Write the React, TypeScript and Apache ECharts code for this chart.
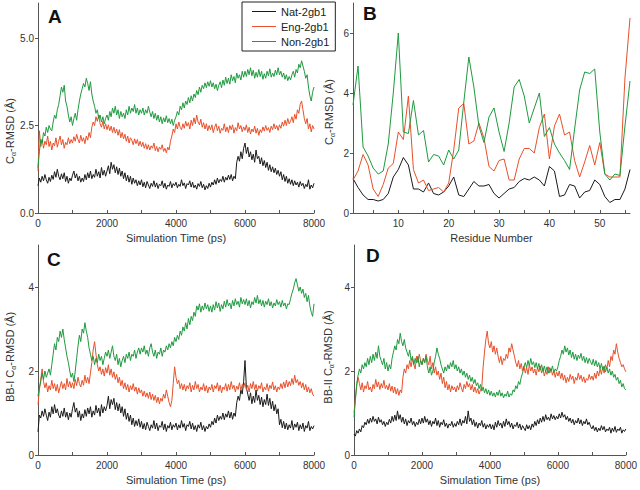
import React, { useEffect, useRef } from "react";
import * as echarts from "echarts";

const TIME_STEP = 40;
const TIME_TICKS = [0, 1000, 2000, 3000, 4000, 5000, 6000, 7000, 8000];
const TIME_LABELS = [0, 2000, 4000, 6000, 8000];
const SERIES_NAMES = ["Nat-2gb1", "Eng-2gb1", "Non-2gb1"];
const COLORS = ["#1a1a1a", "#e8502a", "#1f9a3f"];

// Panel A: Cα-RMSD vs time (one value every 40 ps)
const A_NAT = [
  0.78, 1.00, 0.88, 1.05, 0.92, 1.10, 0.95, 0.85, 1.02, 0.90, 1.08, 0.96, 1.18, 1.02, 1.25, 1.05, 0.95, 1.12, 0.98, 1.15, 0.90, 1.05, 0.85, 1.00, 0.92,
  1.08, 1.20, 1.00, 1.12, 0.92, 1.05, 0.88, 1.00, 0.90, 1.10, 0.95, 1.15, 1.00, 1.20, 0.98, 1.10, 1.02, 1.25, 1.05, 1.18, 1.00, 1.30, 1.08, 1.22, 1.05,
  1.20, 1.35, 1.12, 1.45, 1.25, 1.38, 1.15, 1.32, 1.10, 1.28, 1.05, 1.20, 0.98, 1.15, 0.92, 1.08, 0.88, 1.05, 0.82, 1.00, 0.85, 0.95, 0.78, 0.92, 0.80,
  0.95, 0.75, 0.88, 0.72, 0.90, 0.80, 0.70, 0.85, 0.76, 0.92, 0.74, 0.86, 0.70, 0.82, 0.78, 0.92, 0.72, 0.85, 0.68, 0.80, 0.76, 0.90, 0.72, 0.84, 0.78,
  0.88, 0.72, 0.82, 0.76, 0.95, 0.78, 0.86, 0.70, 0.84, 0.80, 0.92, 0.74, 0.88, 0.72, 0.80, 0.68, 0.84, 0.76, 0.90, 0.72, 0.82, 0.66, 0.78, 0.70, 0.85,
  0.74, 0.88, 0.80, 0.95, 0.82, 1.00, 0.86, 0.96, 0.90, 1.05, 0.88, 1.02, 0.94, 1.08, 0.96, 1.10, 0.92, 1.05, 0.98, 1.45, 1.62, 1.48, 1.75, 1.55, 1.85,
  2.00, 1.70, 1.88, 1.60, 1.75, 1.52, 1.68, 1.45, 1.80, 1.55, 1.62, 1.40, 1.58, 1.35, 1.50, 1.30, 1.45, 1.22, 1.38, 1.18, 1.32, 1.15, 1.28, 1.10, 1.22,
  1.05, 1.18, 0.95, 1.10, 0.90, 1.05, 0.85, 0.98, 0.82, 0.95, 0.78, 0.92, 0.80, 0.88, 0.74, 0.90, 0.78, 0.85, 0.70, 0.82, 0.75, 0.95, 0.68, 0.80, 0.72,
  0.85];
const A_ENG = [
  1.20, 2.35, 1.90, 2.10, 1.85, 2.05, 1.95, 2.20, 1.90, 2.05, 1.80, 2.00, 1.92, 2.15, 1.88, 2.05, 2.20, 1.95, 2.10, 1.85, 2.02, 1.95, 2.15, 1.98, 2.10,
  2.00, 2.18, 2.05, 2.25, 2.10, 2.00, 2.22, 2.05, 2.15, 1.98, 2.20, 2.08, 2.30, 2.15, 2.45, 2.60, 2.50, 2.75, 2.62, 2.80, 2.55, 2.45, 2.62, 2.40, 2.55,
  2.38, 2.52, 2.35, 2.48, 2.30, 2.45, 2.28, 2.40, 2.22, 2.38, 2.15, 2.30, 2.12, 2.25, 2.05, 2.20, 2.00, 2.15, 2.08, 1.95, 2.12, 1.98, 2.10, 1.92, 2.05,
  1.90, 2.02, 1.85, 1.98, 1.82, 1.95, 1.80, 1.92, 1.85, 2.00, 1.78, 1.90, 1.75, 1.88, 1.82, 1.95, 1.76, 1.85, 1.72, 1.88, 1.80, 2.05, 2.20, 2.40, 2.30,
  2.55, 2.40, 2.60, 2.45, 2.38, 2.55, 2.42, 2.62, 2.48, 2.58, 2.40, 2.65, 2.50, 2.72, 2.55, 2.80, 2.60, 2.52, 2.68, 2.45, 2.58, 2.40, 2.55, 2.35, 2.50,
  2.38, 2.52, 2.30, 2.45, 2.55, 2.35, 2.48, 2.28, 2.42, 2.36, 2.55, 2.32, 2.46, 2.30, 2.50, 2.38, 2.52, 2.28, 2.44, 2.35, 2.58, 2.40, 2.50, 2.32, 2.46,
  2.36, 2.52, 2.30, 2.45, 2.26, 2.40, 2.32, 2.48, 2.28, 2.42, 2.22, 2.38, 2.30, 2.46, 2.34, 2.50, 2.36, 2.44, 2.30, 2.48, 2.38, 2.55, 2.40, 2.50, 2.36,
  2.52, 2.42, 2.60, 2.48, 2.65, 2.50, 2.70, 2.55, 2.62, 2.75, 2.58, 2.82, 2.68, 2.95, 2.85, 3.10, 3.20, 2.95, 2.70, 2.55, 2.70, 2.40, 2.55, 2.32, 2.50,
  2.40];
const A_NON = [
  1.30, 1.75, 2.10, 2.00, 2.30, 2.20, 2.45, 2.30, 2.50, 2.40, 2.35, 2.60, 2.80, 2.70, 2.95, 3.10, 3.35, 3.60, 3.45, 3.65, 3.20, 3.05, 2.80, 2.60, 2.75,
  2.50, 2.70, 2.85, 2.65, 2.95, 3.20, 3.40, 3.55, 3.70, 3.60, 3.85, 3.70, 3.50, 3.75, 3.40, 3.20, 3.05, 2.85, 2.95, 2.70, 2.80, 2.60, 2.75, 2.55, 2.70,
  2.80, 2.65, 2.90, 2.75, 3.00, 2.85, 3.05, 2.80, 2.95, 2.70, 2.90, 2.75, 2.85, 2.70, 2.95, 2.80, 3.05, 2.85, 3.00, 2.90, 3.10, 2.85, 3.00, 2.80, 2.95,
  2.85, 3.00, 2.80, 2.95, 2.85, 3.05, 2.88, 2.75, 2.90, 2.70, 2.85, 2.65, 2.80, 2.60, 2.75, 2.55, 2.72, 2.60, 2.78, 2.58, 2.70, 2.55, 2.68, 2.50, 2.65,
  2.75, 2.90, 2.80, 3.05, 2.95, 3.15, 3.00, 3.20, 3.10, 3.30, 3.15, 3.35, 3.20, 3.40, 3.30, 3.50, 3.38, 3.60, 3.45, 3.65, 3.55, 3.72, 3.58, 3.75, 3.62,
  3.78, 3.60, 3.72, 3.55, 3.68, 3.50, 3.65, 3.75, 3.58, 3.80, 3.65, 3.88, 3.70, 3.85, 3.68, 3.95, 3.78, 3.90, 3.72, 4.00, 3.85, 3.95, 3.80, 4.05, 3.88,
  4.05, 3.90, 4.10, 3.95, 4.15, 3.92, 4.08, 3.85, 4.02, 3.88, 4.10, 3.90, 4.05, 3.82, 3.98, 3.85, 4.05, 3.92, 4.12, 3.88, 4.00, 3.90, 4.08, 3.95, 4.15,
  3.95, 4.05, 3.88, 4.00, 3.82, 3.95, 3.78, 3.90, 3.80, 3.95, 4.05, 3.88, 4.10, 4.00, 4.25, 4.15, 4.35, 4.20, 4.05, 3.85, 3.95, 3.60, 3.35, 3.20, 3.45,
  3.60];

// Panel B: per-residue Cα-RMSD
const RESIDUES = Array.from({ length: 56 }, (_, i) => String(i + 1));
const B_NAT = [1.15, 0.85, 0.60, 0.45, 0.45, 0.40, 0.45, 0.65, 1.20, 1.45, 1.85, 1.60, 0.80, 0.80, 0.70, 1.00,
  0.65, 0.60, 0.70, 0.90, 1.20, 0.60, 0.55, 0.80, 1.05, 0.90, 0.90, 0.95, 0.65, 0.50, 0.65, 0.80,
  0.85, 1.05, 1.15, 1.10, 1.20, 1.10, 0.90, 1.55, 1.40, 0.55, 0.60, 0.95, 0.90, 0.50, 0.70, 0.75,
  1.10, 0.95, 0.55, 0.35, 0.45, 0.45, 0.80, 1.45];
const B_ENG = [1.10, 1.40, 1.95, 1.60, 0.80, 0.55, 0.95, 1.50, 1.65, 2.70, 2.45, 3.90, 1.45, 1.00, 1.10, 0.75,
  0.80, 0.85, 0.70, 1.00, 2.10, 3.50, 3.65, 2.30, 2.40, 3.00, 2.50, 1.55, 1.40, 1.75, 1.80, 1.10,
  1.10, 1.80, 2.15, 2.15, 2.00, 2.85, 3.30, 1.80, 2.90, 3.30, 2.60, 2.70, 1.75, 1.20, 1.70, 2.25,
  1.60, 2.35, 1.30, 1.20, 1.20, 1.20, 4.50, 6.50];
const B_NON = [3.60, 4.90, 2.20, 1.90, 1.50, 1.30, 1.40, 2.30, 4.00, 6.00, 2.70, 2.65, 3.75, 2.60, 2.75, 1.70,
  1.95, 1.90, 1.60, 2.10, 1.80, 2.10, 3.70, 5.20, 4.20, 2.90, 2.35, 3.20, 3.50, 2.70, 2.05, 3.00,
  4.20, 4.45, 3.90, 3.00, 3.50, 4.00, 2.55, 2.85, 2.30, 2.00, 1.75, 1.45, 2.80, 4.10, 4.70, 4.65,
  4.80, 2.70, 1.30, 1.10, 1.30, 1.25, 2.90, 4.40];

// Panel C: BB-I Cα-RMSD vs time
const C_NAT = [
  0.55, 0.95, 0.88, 1.05, 0.92, 1.10, 0.95, 0.82, 1.02, 0.90, 1.15, 0.98, 1.20, 1.00, 1.10, 0.95, 0.88, 1.05, 0.92, 1.12, 0.90, 1.02, 0.84, 1.00, 0.90,
  1.10, 1.25, 1.02, 1.12, 0.90, 1.05, 0.82, 0.98, 0.88, 1.08, 0.92, 1.12, 0.98, 1.15, 0.90, 1.05, 0.95, 1.18, 1.00, 1.12, 0.92, 1.20, 1.00, 1.15, 1.05,
  1.18, 1.40, 1.10, 1.32, 1.20, 1.35, 1.08, 1.25, 1.05, 1.22, 1.00, 1.15, 0.92, 1.10, 0.85, 1.00, 0.80, 0.95, 0.72, 0.88, 0.68, 0.82, 0.70, 0.86, 0.66,
  0.80, 0.62, 0.75, 0.60, 0.78, 0.68, 0.58, 0.72, 0.64, 0.82, 0.62, 0.76, 0.58, 0.70, 0.66, 0.80, 0.60, 0.74, 0.56, 0.70, 0.64, 0.78, 0.60, 0.72, 0.66,
  0.76, 0.60, 0.72, 0.64, 0.82, 0.66, 0.75, 0.58, 0.72, 0.68, 0.80, 0.62, 0.76, 0.60, 0.70, 0.56, 0.72, 0.64, 0.78, 0.60, 0.70, 0.56, 0.68, 0.62, 0.74,
  0.66, 0.80, 0.72, 0.88, 0.76, 0.95, 0.82, 0.92, 0.85, 1.00, 0.84, 0.98, 0.90, 1.05, 0.88, 1.02, 0.85, 1.00, 0.92, 1.25, 1.40, 1.30, 1.55, 1.45, 1.75,
  2.25, 1.60, 1.45, 1.30, 1.48, 1.22, 1.40, 1.25, 1.55, 1.30, 1.42, 1.20, 1.38, 1.15, 1.32, 1.20, 1.45, 1.18, 1.35, 1.10, 1.28, 1.05, 1.20, 0.98, 1.10,
  0.72, 0.85, 0.65, 0.80, 0.62, 0.76, 0.60, 0.72, 0.64, 0.82, 0.60, 0.74, 0.66, 0.78, 0.58, 0.72, 0.62, 0.76, 0.56, 0.70, 0.64, 0.80, 0.58, 0.68, 0.62,
  0.70];
const C_ENG = [
  1.20, 1.55, 1.80, 2.05, 1.75, 1.60, 1.72, 1.50, 1.65, 1.55, 1.78, 1.58, 1.70, 1.52, 1.68, 1.48, 1.62, 1.75, 1.58, 1.70, 1.55, 1.82, 1.62, 1.75, 1.60,
  1.72, 1.58, 1.80, 1.65, 1.85, 1.70, 1.62, 1.78, 1.66, 1.90, 1.72, 1.85, 1.70, 1.95, 2.20, 2.50, 2.70, 2.40, 2.15, 2.00, 2.10, 1.92, 2.05, 1.88, 2.08,
  1.95, 2.15, 1.90, 2.05, 1.85, 1.98, 1.80, 1.92, 1.72, 1.85, 1.65, 1.78, 1.58, 1.72, 1.55, 1.68, 1.50, 1.65, 1.55, 1.70, 1.52, 1.62, 1.45, 1.60, 1.48,
  1.55, 1.40, 1.52, 1.38, 1.48, 1.35, 1.50, 1.32, 1.45, 1.30, 1.42, 1.25, 1.38, 1.22, 1.35, 1.28, 1.45, 1.35, 1.55, 1.40, 1.25, 1.15, 1.30, 1.70, 2.10,
  1.85, 1.70, 1.78, 1.58, 1.70, 1.55, 1.68, 1.52, 1.65, 1.58, 1.72, 1.50, 1.66, 1.55, 1.75, 1.58, 1.68, 1.50, 1.62, 1.55, 1.70, 1.52, 1.65, 1.48, 1.62,
  1.55, 1.68, 1.50, 1.65, 1.58, 1.72, 1.52, 1.66, 1.48, 1.62, 1.56, 1.70, 1.52, 1.68, 1.55, 1.75, 1.58, 1.66, 1.50, 1.64, 1.56, 1.72, 1.54, 1.68, 1.60,
  1.72, 1.55, 1.66, 1.50, 1.70, 1.58, 1.75, 1.56, 1.68, 1.52, 1.65, 1.58, 1.72, 1.50, 1.62, 1.55, 1.70, 1.52, 1.66, 1.58, 1.74, 1.55, 1.65, 1.50, 1.62,
  1.56, 1.70, 1.58, 1.74, 1.60, 1.78, 1.62, 1.75, 1.65, 1.82, 1.68, 1.90, 1.72, 1.80, 1.66, 1.75, 1.60, 1.72, 1.55, 1.68, 1.50, 1.62, 1.48, 1.58, 1.45,
  1.40];
const C_NON = [
  1.40, 1.60, 1.75, 1.95, 1.80, 2.00, 1.85, 1.95, 2.05, 1.90, 2.15, 2.40, 2.65, 2.50, 2.80, 2.70, 2.95, 2.80, 3.00, 2.75, 2.55, 2.35, 2.20, 2.00, 1.85,
  1.95, 1.75, 2.00, 2.30, 2.60, 2.85, 2.70, 3.00, 2.90, 3.15, 2.95, 2.80, 2.55, 2.40, 2.25, 2.35, 2.15, 2.30, 2.20, 2.40, 2.25, 2.35, 2.15, 2.30, 2.45,
  2.35, 2.50, 2.30, 2.45, 2.60, 2.35, 2.25, 2.40, 2.15, 2.30, 2.10, 2.25, 2.35, 2.20, 2.40, 2.30, 2.45, 2.25, 2.40, 2.35, 2.50, 2.30, 2.45, 2.55, 2.40,
  2.55, 2.45, 2.60, 2.40, 2.50, 2.35, 2.55, 2.65, 2.45, 2.35, 2.50, 2.30, 2.45, 2.40, 2.55, 2.35, 2.50, 2.45, 2.60, 2.50, 2.65, 2.55, 2.70, 2.60, 2.80,
  2.70, 2.85, 2.75, 2.95, 2.85, 3.05, 2.95, 3.15, 3.00, 3.25, 3.10, 3.30, 3.20, 3.40, 3.30, 3.55, 3.45, 3.60, 3.40, 3.55, 3.45, 3.62, 3.48, 3.58, 3.42,
  3.55, 3.40, 3.58, 3.45, 3.65, 3.50, 3.62, 3.42, 3.58, 3.48, 3.66, 3.52, 3.70, 3.55, 3.62, 3.48, 3.68, 3.55, 3.72, 3.58, 3.66, 3.52, 3.75, 3.60, 3.70,
  3.58, 3.72, 3.55, 3.68, 3.50, 3.65, 3.58, 3.75, 3.62, 3.80, 3.60, 3.70, 3.55, 3.68, 3.52, 3.66, 3.58, 3.72, 3.55, 3.65, 3.50, 3.62, 3.55, 3.70, 3.58,
  3.65, 3.52, 3.68, 3.55, 3.62, 3.48, 3.60, 3.58, 3.72, 3.85, 3.95, 4.10, 4.20, 4.05, 3.90, 4.00, 3.85, 3.95, 3.75, 3.85, 3.65, 3.80, 3.55, 3.40, 3.30,
  3.60];

// Panel D: BB-II Cα-RMSD vs time
const D_NAT = [
  0.50, 0.45, 0.58, 0.52, 0.62, 0.55, 0.70, 0.65, 0.78, 0.72, 0.85, 0.75, 0.88, 0.78, 0.92, 0.80, 0.86, 0.74, 0.90, 0.78, 0.84, 0.72, 0.80, 0.68, 0.78,
  0.72, 0.85, 0.76, 0.92, 0.80, 0.95, 0.82, 1.05, 0.85, 0.96, 0.78, 0.90, 0.74, 0.86, 0.70, 0.82, 0.76, 0.88, 0.72, 0.80, 0.68, 0.78, 0.72, 0.85, 0.74,
  0.88, 0.76, 0.92, 0.78, 0.86, 0.72, 0.82, 0.68, 0.80, 0.74, 0.88, 0.70, 0.82, 0.66, 0.78, 0.72, 0.84, 0.68, 0.76, 0.64, 0.74, 0.70, 0.80, 0.66, 0.75,
  0.68, 0.80, 0.72, 0.86, 0.70, 0.82, 0.76, 0.92, 0.74, 1.05, 0.80, 0.88, 0.72, 0.84, 0.68, 0.78, 0.64, 0.76, 0.70, 0.82, 0.66, 0.75, 0.62, 0.72, 0.66,
  0.74, 0.62, 0.72, 0.60, 0.78, 0.66, 0.82, 0.70, 0.76, 0.64, 0.80, 0.68, 0.86, 0.72, 0.80, 0.66, 0.76, 0.62, 0.72, 0.68, 0.78, 0.64, 0.74, 0.60, 0.70,
  0.64, 0.58, 0.72, 0.62, 0.70, 0.60, 0.74, 0.66, 0.80, 0.70, 0.84, 0.74, 0.88, 0.78, 0.92, 0.80, 0.96, 0.84, 0.90, 0.82, 0.98, 0.86, 0.94, 0.84, 0.92,
  0.86, 0.98, 0.88, 1.02, 0.90, 0.96, 0.84, 0.92, 0.80, 0.88, 0.76, 0.85, 0.72, 0.82, 0.76, 0.88, 0.74, 0.84, 0.70, 0.80, 0.74, 0.86, 0.72, 0.78, 0.68,
  0.62, 0.70, 0.58, 0.66, 0.55, 0.64, 0.58, 0.70, 0.60, 0.68, 0.55, 0.62, 0.58, 0.66, 0.52, 0.64, 0.56, 0.68, 0.54, 0.62, 0.58, 0.66, 0.52, 0.60, 0.56,
  0.62];
const D_ENG = [
  1.00, 1.35, 1.65, 1.85, 1.70, 1.55, 1.72, 1.50, 1.65, 1.58, 1.75, 1.55, 1.62, 1.50, 1.68, 1.58, 1.80, 1.62, 1.74, 1.56, 1.70, 1.60, 1.78, 1.58, 1.66,
  1.55, 1.70, 1.52, 1.64, 1.48, 1.62, 1.45, 1.58, 1.42, 1.55, 1.48, 1.85, 2.05, 1.95, 2.15, 2.05, 2.25, 2.10, 2.30, 2.15, 2.05, 2.35, 2.20, 2.40, 2.25,
  2.15, 2.30, 2.20, 2.40, 2.25, 2.15, 2.35, 2.05, 2.20, 1.95, 2.10, 1.90, 2.00, 1.80, 1.95, 1.70, 1.85, 1.60, 1.75, 1.55, 1.68, 1.50, 1.65, 1.55, 1.62,
  1.50, 1.65, 1.55, 1.72, 1.60, 1.50, 1.68, 1.58, 1.75, 1.62, 1.70, 1.55, 1.68, 1.50, 1.62, 1.48, 1.58, 1.45, 1.55, 1.62, 2.10, 2.45, 2.75, 2.95, 2.65,
  2.55, 2.70, 2.45, 2.60, 2.40, 2.55, 2.35, 2.20, 2.35, 2.15, 2.30, 2.25, 2.40, 2.30, 2.55, 2.45, 2.65, 2.50, 2.35, 2.20, 2.10, 2.25, 2.05, 2.18, 2.00,
  2.12, 1.95, 2.08, 1.92, 2.15, 2.00, 2.10, 1.95, 2.05, 1.90, 2.08, 1.98, 2.12, 1.95, 2.05, 1.88, 2.00, 1.92, 2.10, 1.95, 2.05, 1.90, 2.00, 1.85, 1.98,
  1.88, 2.00, 1.82, 1.95, 1.78, 1.90, 1.72, 1.85, 1.75, 1.92, 1.80, 1.88, 1.70, 1.85, 1.78, 1.95, 1.80, 1.90, 1.75, 1.86, 1.72, 1.82, 1.78, 1.92, 1.80,
  1.88, 1.78, 1.95, 1.82, 2.00, 1.88, 2.05, 1.92, 2.10, 1.95, 2.15, 2.05, 2.25, 2.10, 2.35, 2.25, 2.50, 2.40, 2.65, 2.45, 2.30, 2.20, 2.10, 2.15, 2.05,
  1.98];
const D_NON = [
  0.90, 1.30, 1.70, 1.90, 2.05, 1.95, 2.15, 2.05, 2.20, 2.10, 2.30, 2.15, 2.35, 2.20, 2.40, 2.25, 2.45, 2.30, 2.60, 2.35, 2.25, 2.15, 2.30, 2.05, 2.20,
  2.00, 2.15, 2.05, 2.30, 2.45, 2.60, 2.50, 2.75, 2.65, 2.90, 2.70, 2.60, 2.75, 2.55, 2.45, 2.35, 2.50, 2.25, 2.35, 2.15, 2.30, 2.20, 2.35, 2.10, 2.25,
  2.15, 2.30, 2.20, 2.35, 2.10, 1.95, 2.10, 1.90, 2.00, 2.20, 2.35, 2.55, 2.40, 2.30, 2.15, 2.05, 1.95, 2.10, 2.00, 2.15, 2.05, 2.20, 2.10, 2.25, 2.05,
  2.15, 2.00, 2.10, 1.95, 2.05, 1.90, 2.00, 1.85, 1.95, 1.80, 1.90, 1.75, 1.85, 1.70, 1.80, 1.65, 1.72, 1.58, 1.68, 1.52, 1.62, 1.48, 1.58, 1.45, 1.55,
  1.42, 1.52, 1.40, 1.48, 1.38, 1.50, 1.42, 1.55, 1.40, 1.48, 1.36, 1.45, 1.40, 1.52, 1.38, 1.46, 1.42, 1.55, 1.50, 1.65, 1.58, 1.75, 1.68, 1.85, 1.95,
  2.10, 2.20, 2.08, 2.25, 2.12, 2.30, 2.15, 2.22, 2.08, 2.20, 2.05, 2.18, 2.02, 2.15, 2.00, 2.12, 1.98, 2.10, 1.95, 2.08, 2.00, 2.12, 1.96, 2.05, 2.00,
  2.10, 2.25, 2.35, 2.50, 2.40, 2.60, 2.45, 2.55, 2.38, 2.50, 2.32, 2.45, 2.28, 2.40, 2.25, 2.38, 2.30, 2.42, 2.25, 2.35, 2.20, 2.32, 2.18, 2.30, 2.22,
  2.15, 2.28, 2.12, 2.25, 2.10, 2.20, 2.05, 2.18, 2.02, 2.12, 1.98, 2.08, 1.95, 2.05, 1.90, 2.00, 1.85, 1.92, 1.78, 1.85, 1.70, 1.78, 1.62, 1.70, 1.58,
  1.55];

const A_Y_TICKS = [0, 2.5, 5];
const B_Y_TICKS = [0, 2, 4, 6];
const CD_Y_TICKS = [0, 2, 4];

const FONT = "'Liberation Sans', Arial, sans-serif";

const GRIDS = [
  { left: 38, top: 3, width: 276, height: 210 },
  { left: 353, top: 3, width: 277, height: 210 },
  { left: 38, top: 245, width: 276, height: 210 },
  { left: 354, top: 245, width: 276, height: 210 },
];

const axisLineStyle = { lineStyle: { color: "#555", width: 1 } };
const labelStyle = { fontSize: 10, color: "#333", fontFamily: FONT };

function timeXAxis(gridIndex: number) {
  return {
    type: "value",
    gridIndex,
    min: 0,
    max: 8000,
    interval: 1000,
    name: "Simulation Time (ps)",
    nameLocation: "middle",
    nameGap: 19,
    nameTextStyle: { fontSize: 11, color: "#333", fontFamily: FONT },
    axisLine: axisLineStyle,
    axisTick: { show: true, inside: true, length: 3, lineStyle: { color: "#555" }, customValues: TIME_TICKS },
    axisLabel: { ...labelStyle, margin: 5, customValues: TIME_LABELS, formatter: (v: number) => String(v) },
    splitLine: { show: false },
  };
}

function yAxis(gridIndex: number, max: number, ticks: number[], decimals: number) {
  return {
    type: "value",
    gridIndex,
    min: 0,
    max,
    axisLine: { show: true, ...axisLineStyle },
    axisTick: { show: true, inside: false, length: 3, lineStyle: { color: "#555" }, customValues: ticks },
    axisLabel: { ...labelStyle, margin: 4, customValues: ticks, formatter: (v: number) => v.toFixed(decimals) },
    splitLine: { show: false },
  };
}

function timeSeries(values: number[], idx: number, panel: number) {
  return {
    type: "line",
    name: SERIES_NAMES[idx],
    xAxisIndex: panel,
    yAxisIndex: panel,
    data: values.map((v, i) => [i * TIME_STEP, v]),
    symbol: "none",
    showSymbol: false,
    lineStyle: { width: 1, color: COLORS[idx] },
    itemStyle: { color: COLORS[idx] },
  };
}

function residueSeries(values: number[], idx: number) {
  return {
    type: "line",
    name: SERIES_NAMES[idx],
    xAxisIndex: 1,
    yAxisIndex: 1,
    data: values,
    symbol: "none",
    showSymbol: false,
    lineStyle: { width: 1, color: COLORS[idx] },
    itemStyle: { color: COLORS[idx] },
  };
}

function yTitle(x: number, y: number, prefix: string) {
  return {
    type: "text",
    x,
    y,
    rotation: Math.PI / 2,
    style: {
      text: `{a|${prefix}C}{s|α}{a|-RMSD (Å)}`,
      align: "center",
      verticalAlign: "middle",
      rich: {
        a: { fontSize: 11, fill: "#333", fontFamily: FONT, lineHeight: 14, verticalAlign: "middle" },
        s: { fontSize: 7, fill: "#333", fontFamily: FONT, lineHeight: 8, verticalAlign: "bottom" },
      },
    },
  };
}

function letter(x: number, y: number, t: string) {
  return {
    type: "text",
    x,
    y,
    style: { text: t, fontSize: 19, fontWeight: "bold", fill: "#111", fontFamily: FONT, verticalAlign: "top" },
  };
}

export default function App() {
  const ref = useRef<HTMLDivElement>(null);
  useEffect(() => {
    if (!ref.current) return;
    const chart = echarts.init(ref.current, undefined, { renderer: "svg" });
    chart.setOption({
      animation: false,
      backgroundColor: "#fff",
      grid: GRIDS,
      legend: {
        left: 242,
        top: 2,
        orient: "vertical",
        icon: "rect",
        itemWidth: 24,
        itemHeight: 1,
        itemGap: 2,
        padding: [3, 6, 3, 10],
        borderColor: "#222",
        borderWidth: 1,
        backgroundColor: "#fff",
        textStyle: { fontSize: 11, color: "#222", fontFamily: FONT, lineHeight: 13 },
        data: SERIES_NAMES,
        selectedMode: false,
      },
      xAxis: [
        timeXAxis(0),
        {
          type: "category",
          gridIndex: 1,
          data: RESIDUES,
          boundaryGap: false,
          name: "Residue Number",
          nameLocation: "middle",
          nameGap: 19,
          nameTextStyle: { fontSize: 11, color: "#333", fontFamily: FONT },
          axisLine: axisLineStyle,
          axisTick: {
            show: true,
            inside: true,
            length: 3,
            lineStyle: { color: "#555" },
            interval: (_i: number, v: string) => Number(v) % 5 === 0,
          },
          axisLabel: { ...labelStyle, margin: 5, interval: (_i: number, v: string) => Number(v) % 10 === 0 },
          splitLine: { show: false },
        },
        timeXAxis(2),
        timeXAxis(3),
      ],
      yAxis: [
        yAxis(0, 6, A_Y_TICKS, 1),
        yAxis(1, 7, B_Y_TICKS, 0),
        yAxis(2, 5, CD_Y_TICKS, 0),
        yAxis(3, 5, CD_Y_TICKS, 0),
      ],
      series: [
        timeSeries(A_NAT, 0, 0),
        timeSeries(A_ENG, 1, 0),
        timeSeries(A_NON, 2, 0),
        residueSeries(B_NAT, 0),
        residueSeries(B_ENG, 1),
        residueSeries(B_NON, 2),
        timeSeries(C_NAT, 0, 2),
        timeSeries(C_ENG, 1, 2),
        timeSeries(C_NON, 2, 2),
        timeSeries(D_NAT, 0, 3),
        timeSeries(D_ENG, 1, 3),
        timeSeries(D_NON, 2, 3),
      ],
      graphic: [
        letter(48, 7, "A"),
        letter(363, 4, "B"),
        letter(47, 250, "C"),
        letter(366, 246, "D"),
        yTitle(10, 131, ""),
        yTitle(329, 112, ""),
        yTitle(10, 357, "BB-I "),
        yTitle(328, 357, "BB-II "),
      ],
    });
    return () => chart.dispose();
  }, []);
  return <div ref={ref} style={{ position: "fixed", left: 0, top: 0, width: 640, height: 490 }} />;
}
